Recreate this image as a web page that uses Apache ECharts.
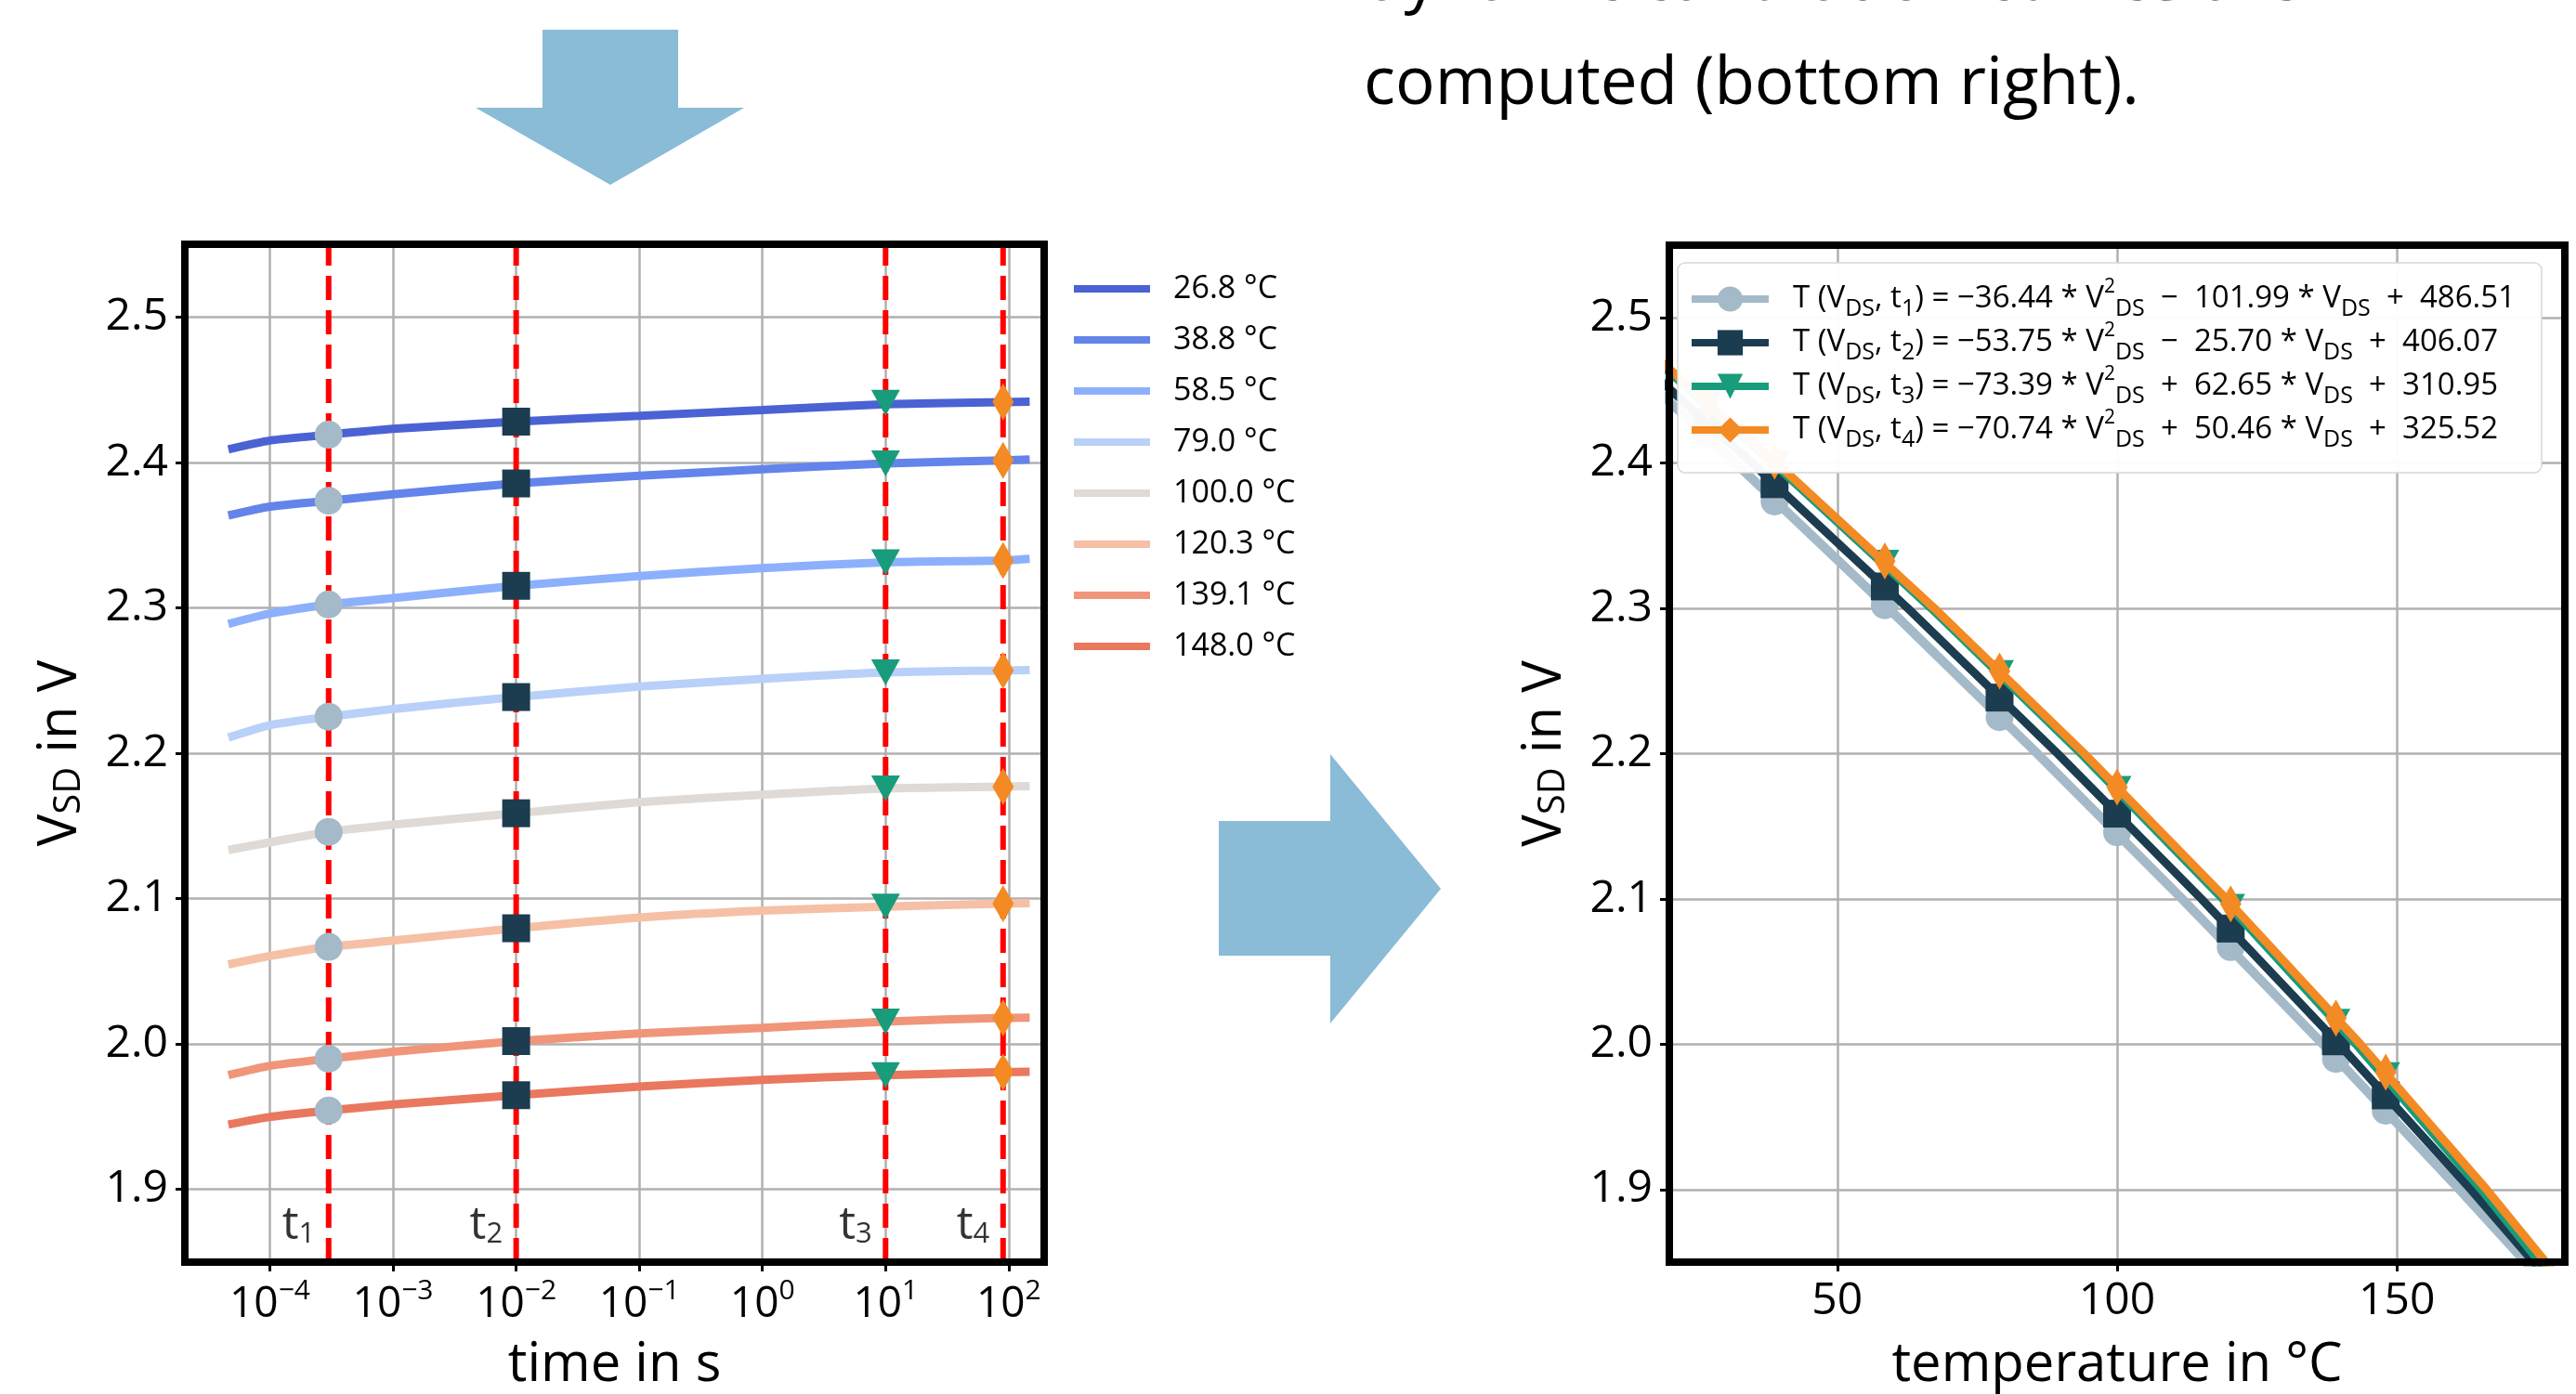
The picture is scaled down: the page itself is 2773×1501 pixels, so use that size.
<!DOCTYPE html>
<html><head><meta charset="utf-8">
<script src="https://cdn.jsdelivr.net/npm/echarts@6/dist/echarts.min.js"></script>
<style>html,body{margin:0;padding:0;background:#fff}#c{width:2773px;height:1501px}</style>
</head><body><div id="c"></div>
<script>
// ---------- data ----------
const tempLabels = ['26.8 °C', '38.8 °C', '58.5 °C', '79.0 °C', '100.0 °C', '120.3 °C', '139.1 °C', '148.0 °C'];
const tempValues = [26.8, 38.8, 58.5, 79.0, 100.0, 120.3, 139.1, 148.0];
const timeS = [4.6e-5, 1e-4, 3e-4, 1e-3, 1e-2, 1e-1, 1, 10, 90, 148];
const vsd268 = [2.409, 2.415, 2.419, 2.423, 2.428, 2.432, 2.436, 2.440, 2.4415, 2.4418];
const vsd388 = [2.3635, 2.3696, 2.3736, 2.378, 2.3855, 2.3908, 2.3953, 2.3992, 2.4014, 2.402];
const vsd585 = [2.2889, 2.296, 2.3022, 2.3066, 2.3151, 2.3218, 2.3273, 2.3313, 2.3326, 2.3337];
const vsd790 = [2.2108, 2.2193, 2.2251, 2.2304, 2.2386, 2.2458, 2.2511, 2.2555, 2.2569, 2.2572];
const vsd1000 = [2.1334, 2.1387, 2.1459, 2.1508, 2.1587, 2.1663, 2.1714, 2.1757, 2.177, 2.1774];
const vsd1203 = [2.0547, 2.0605, 2.0668, 2.0711, 2.0796, 2.087, 2.0917, 2.0945, 2.0966, 2.0968];
const vsd1391 = [1.9786, 1.985, 1.9899, 1.9946, 2.002, 2.0073, 2.0111, 2.0154, 2.018, 2.0182];
const vsd1480 = [1.9446, 1.9499, 1.9542, 1.9584, 1.9648, 1.9707, 1.9754, 1.9786, 1.9807, 1.9809];
const curves = [vsd268, vsd388, vsd585, vsd790, vsd1000, vsd1203, vsd1391, vsd1480];

const tMarks = [3e-4, 1e-2, 10, 90];
const vAtT1 = [2.419, 2.3736, 2.3022, 2.2251, 2.1459, 2.0668, 1.9899, 1.9542];
const vAtT2 = [2.428, 2.3855, 2.3151, 2.2386, 2.1587, 2.0796, 2.002, 1.9648];
const vAtT3 = [2.441, 2.3992, 2.3313, 2.2555, 2.1757, 2.0945, 2.0154, 1.9786];
const vAtT4 = [2.4416, 2.4014, 2.3326, 2.2569, 2.177, 2.0966, 2.018, 1.9807];
const vAtT = [vAtT1, vAtT2, vAtT3, vAtT4];

const fitA = [-36.44, -53.75, -73.39, -70.74];
const fitB = [-101.99, -25.70, 62.65, 50.46];
const fitC = [486.51, 406.07, 310.95, 325.52];
const fitV = [1.8, 1.9, 2.0, 2.1, 2.2, 2.3, 2.4, 2.5, 2.6];
const fitT1 = [184.86, 161.18, 136.77, 111.63, 85.76, 59.17, 31.84, 3.79, -25.00];
const fitT2 = [185.66, 163.20, 139.67, 115.06, 89.38, 62.62, 34.79, 5.88, -24.10];
const fitT3 = [185.94, 165.05, 142.69, 118.87, 93.57, 66.81, 38.58, 8.89, -22.28];
const fitT4 = [187.15, 166.02, 143.48, 119.52, 94.15, 67.36, 39.16, 9.55, -21.49];
const fitT = [fitT1, fitT2, fitT3, fitT4];

// ---------- styles ----------
const FONT = "'Open Sans','Noto Sans',sans-serif";
const tempColors = ['#4a62d3', '#6384ea', '#8cb0fc', '#b9d0f9', '#dfdad6', '#f5c0a5', '#f0957a', '#e9785e'];
const markColors = ['#a5bac8', '#1c3c4f', '#189c7b', '#f38a24'];
const markSymbols = ['circle', 'rect', 'triangle', 'diamond'];
const markRot = [0, 0, 180, 0];
const markSizes = [30, 30, [31, 28], [23, 40]];
const fitWidths = [10, 9, 9, 9];
const fitNames = ['fit_t1', 'fit_t2', 'fit_t3', 'fit_t4'];
const Y_MIN = 1.85, Y_MAX = 2.55;
const T_LABEL_Y = 1.875;

const G1 = { left: 199, top: 263, width: 925, height: 1096 };
const G2 = { left: 1797, top: 264, width: 964, height: 1095 };

const gridLine = { show: true, showMinLine: false, showMaxLine: false, lineStyle: { color: '#b0b0b0', width: 2.5 } };
const tick = { show: true, length: 10, lineStyle: { color: '#000', width: 3 } };

function yAx(gi) {
  return {
    type: 'value', gridIndex: gi, min: Y_MIN, max: Y_MAX, splitNumber: 7,
    axisLine: { show: false }, axisTick: tick, splitLine: gridLine,
    axisLabel: { showMinLabel: false, showMaxLabel: false, margin: 18, fontSize: 48, fontFamily: FONT, color: '#000',
      formatter: v => v.toFixed(1) },
    name: 'V{s|SD} in V', nameLocation: 'middle', nameRotate: 90, nameGap: 104,
    nameTextStyle: { fontSize: 58, fontFamily: FONT, color: '#000', lineHeight: 60,
      rich: { s: { fontSize: 40, fontFamily: FONT, color: '#000', lineHeight: 34, verticalAlign: 'bottom' } } }
  };
}

const series = [];
// left chart: temperature curves
curves.forEach((c, i) => {
  series.push({
    type: 'line', name: tempLabels[i], xAxisIndex: 0, yAxisIndex: 0,
    data: timeS.map((t, j) => [t, c[j]]), symbol: 'none', smooth: 0.2,
    color: tempColors[i], lineStyle: { color: tempColors[i], width: 9 }, z: 2, silent: true
  });
});
// left chart: dashed red vertical lines at t1..t4
tMarks.forEach((t, k) => {
  series.push({
    type: 'line', name: 'tline' + k, xAxisIndex: 0, yAxisIndex: 0, z: 3, silent: true,
    data: [[t, Y_MIN], [t, Y_MAX]], symbol: 'none',
    lineStyle: { color: '#ff0000', width: 6, type: [26, 11] }
  });
});
// left chart: t labels
series.push({
  type: 'scatter', name: 'tlabels', xAxisIndex: 0, yAxisIndex: 0, z: 3, silent: true,
  data: tMarks.map(t => [t, T_LABEL_Y]), symbolSize: 1, itemStyle: { color: 'transparent' },
  label: { show: true, position: 'left', distance: 14,
    formatter: p => '{a|t}{b|' + (p.dataIndex + 1) + '}',
    rich: { a: { fontSize: 50, fontFamily: FONT, color: '#000', lineHeight: 50, verticalAlign: 'middle' },
            b: { fontSize: 31, fontFamily: FONT, color: '#000', lineHeight: 24, verticalAlign: 'bottom' } } }
});
// left chart markers
tMarks.forEach((t, k) => {
  series.push({
    type: 'scatter', name: 'mark' + k, xAxisIndex: 0, yAxisIndex: 0, z: 8, silent: true,
    data: vAtT[k].map(v => [t, v]), symbol: markSymbols[k], symbolRotate: markRot[k], symbolSize: markSizes[k],
    itemStyle: { color: markColors[k], opacity: 1 }
  });
});
// right chart: fit curves + points
fitNames.forEach((nm, k) => {
  series.push({
    type: 'line', name: nm, xAxisIndex: 1, yAxisIndex: 1, z: 2 + k * 0.1, silent: true,
    data: fitV.map((v, j) => [fitT[k][j], v]), showSymbol: false, symbol: markSymbols[k], symbolRotate: markRot[k],
    symbolSize: markSizes[k], color: markColors[k], lineStyle: { color: markColors[k], width: fitWidths[k] }, clip: true
  });
  series.push({
    type: 'scatter', name: 'pts' + k, xAxisIndex: 1, yAxisIndex: 1, z: 2 + k * 0.1 + 0.05, silent: true,
    data: tempValues.map((T, i) => [T, vAtT[k][i]]), symbol: markSymbols[k], symbolRotate: markRot[k],
    symbolSize: markSizes[k], itemStyle: { color: markColors[k], opacity: 1 }, clip: true
  });
});

function num(x) { return (x < 0 ? '−' : '') + Math.abs(x).toFixed(2); }
function sgn(x) { return (x < 0 ? '−  ' : '+  ') + Math.abs(x).toFixed(2); }

const option = {
  animation: false,
  backgroundColor: '#fff',
  grid: [
    Object.assign({ show: false, containLabel: false, outerBoundsMode: 'none' }, G1),
    Object.assign({ show: false, containLabel: false, outerBoundsMode: 'none' }, G2)
  ],
  xAxis: [
    { type: 'log', logBase: 10, gridIndex: 0, min: 2.04e-5, max: 194,
      axisLine: { show: false }, axisTick: tick, splitLine: gridLine, minorTick: { show: false },
      axisLabel: { showMinLabel: false, showMaxLabel: false, margin: 16,
        formatter: v => { const e = Math.round(Math.log10(v)); return '{b|10}{s|' + (e < 0 ? '−' + (-e) : e) + '}'; },
        rich: { b: { fontSize: 46, fontFamily: FONT, color: '#000', lineHeight: 60, verticalAlign: 'middle' },
                s: { fontSize: 30, fontFamily: FONT, color: '#000', lineHeight: 36, verticalAlign: 'top' } } },
      name: 'time in s', nameLocation: 'middle', nameGap: 76,
      nameTextStyle: { fontSize: 58, fontFamily: FONT, color: '#000', lineHeight: 70 } },
    { type: 'value', gridIndex: 1, min: 20, max: 180, splitNumber: 3,
      axisLine: { show: false }, axisTick: tick, splitLine: gridLine,
      axisLabel: { showMinLabel: false, showMaxLabel: false, margin: 18, fontSize: 48, fontFamily: FONT, color: '#000' },
      name: 'temperature in °C', nameLocation: 'middle', nameGap: 76,
      nameTextStyle: { fontSize: 58, fontFamily: FONT, color: '#000', lineHeight: 70 } }
  ],
  yAxis: [yAx(0), yAx(1)],
  legend: [
    { data: tempLabels, orient: 'vertical', left: 1156, top: 291, padding: 0, itemGap: 15, z: 20,
      itemWidth: 82, itemHeight: 8, icon: 'rect', selectedMode: false,
      textStyle: { fontSize: 34, fontFamily: FONT, color: '#000', lineHeight: 40, padding: [0, 0, 0, 20] } },
    { data: fitNames, orient: 'vertical', left: 1806, top: 283, padding: [16, 28, 23, 11], itemGap: 1, z: 20,
      itemWidth: 83, itemHeight: 34, selectedMode: false,
      backgroundColor: 'rgba(255,255,255,0.96)', borderColor: '#d8d8d8', borderWidth: 1.5, borderRadius: 8,
      lineStyle: { width: 8 },
      formatter: name => {
        const k = fitNames.indexOf(name);
        return 'T (V{sub|DS}, t{sub|' + (k + 1) + '}) = ' + num(fitA[k]) + ' * V{sup|2}{sub|DS}  ' +
          sgn(fitB[k]) + ' * V{sub|DS}  ' + sgn(fitC[k]);
      },
      textStyle: { fontSize: 33, fontFamily: FONT, color: '#000', lineHeight: 46, padding: [0, 0, 0, 21],
        rich: {
          sub: { fontSize: 25, fontFamily: FONT, color: '#000', lineHeight: 22, verticalAlign: 'bottom' },
          sup: { fontSize: 21, fontFamily: FONT, color: '#000', lineHeight: 16, verticalAlign: 'top' }
        } } }
  ],
  graphic: [
    { type: 'polygon', silent: true, shape: { points: [[584, 32], [730, 32], [730, 116], [801, 116], [657, 199], [512, 116], [584, 116]] },
      style: { fill: '#8abbd7' } },
    { type: 'polygon', silent: true, shape: { points: [[1312, 884], [1432, 884], [1432, 812], [1551, 957], [1432, 1102], [1432, 1029], [1312, 1029]] },
      style: { fill: '#8abbd7' } },
    { type: 'text', silent: true, x: 1468, y: -20, style: { text: 'dynamic calibration curves are', font: '71px ' + FONT, fill: '#000', verticalAlign: 'middle' } },
    { type: 'text', silent: true, x: 1468, y: 92, style: { text: 'computed (bottom right).', font: '71px ' + FONT, fill: '#000', verticalAlign: 'middle' } },
    { type: 'rect', silent: true, z: 100, shape: { x: G1.left, y: G1.top, width: G1.width, height: G1.height },
      style: { fill: 'none', stroke: '#000', lineWidth: 8 } },
    { type: 'rect', silent: true, z: 100, shape: { x: G2.left, y: G2.top, width: G2.width, height: G2.height },
      style: { fill: 'none', stroke: '#000', lineWidth: 8 } }
  ],
  series: series
};

const chart = echarts.init(document.getElementById('c'), null, { renderer: 'canvas' });
chart.setOption(option);
</script>
</body></html>
